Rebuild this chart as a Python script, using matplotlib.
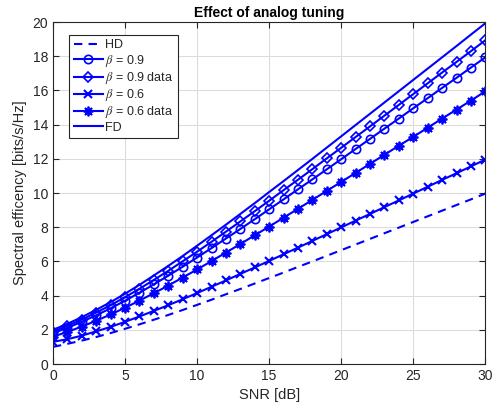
import numpy as np
import matplotlib
matplotlib.use('Agg')
import matplotlib.pyplot as plt

plt.rcParams['font.family'] = ['Liberation Sans', 'DejaVu Sans']
plt.rcParams['mathtext.fontset'] = 'stix'

# SNR axis and curves
snr_db = list(range(0, 31))
hd = [1.00, 1.18, 1.37, 1.58, 1.81, 2.06, 2.32, 2.59, 2.87, 3.16, 3.46,
      3.76, 4.08, 4.39, 4.71, 5.03, 5.35, 5.68, 6.00, 6.33, 6.66,
      6.99, 7.32, 7.65, 7.98, 8.31, 8.64, 8.97, 9.30, 9.63, 9.97]
beta09 = [1.80, 2.12, 2.47, 2.85, 3.26, 3.70, 4.17, 4.66, 5.17, 5.69, 6.23,
          6.78, 7.34, 7.90, 8.47, 9.05, 9.63, 10.22, 10.80, 11.39, 11.98,
          12.58, 13.17, 13.77, 14.36, 14.96, 15.55, 16.15, 16.74, 17.34, 17.94]
beta09_data = [1.90, 2.23, 2.60, 3.01, 3.44, 3.91, 4.40, 4.92, 5.45, 6.01, 6.57,
               7.15, 7.74, 8.34, 8.94, 9.55, 10.17, 10.78, 11.40, 12.03, 12.65,
               13.28, 13.90, 14.53, 15.16, 15.79, 16.42, 17.05, 17.67, 18.30, 18.94]
beta06 = [1.30, 1.45, 1.66, 1.91, 2.17, 2.47, 2.78, 3.11, 3.44, 3.79, 4.15,
          4.52, 4.89, 5.27, 5.65, 6.03, 6.42, 6.81, 7.20, 7.60, 7.99,
          8.39, 8.78, 9.18, 9.57, 9.97, 10.37, 10.77, 11.16, 11.56, 11.96]
beta06_data = [1.60, 1.88, 2.19, 2.53, 2.90, 3.29, 3.71, 4.14, 4.59, 5.06, 5.53,
               6.02, 6.52, 7.02, 7.53, 8.04, 8.56, 9.08, 9.60, 10.13, 10.65,
               11.18, 11.71, 12.24, 12.77, 13.29, 13.82, 14.36, 14.88, 15.41, 15.95]
fd = [2.00, 2.35, 2.74, 3.17, 3.62, 4.11, 4.63, 5.18, 5.74, 6.32, 6.92,
      7.53, 8.15, 8.78, 9.41, 10.06, 10.70, 11.35, 12.00, 12.66, 13.32,
      13.98, 14.64, 15.30, 15.96, 16.62, 17.28, 17.94, 18.60, 19.27, 19.93]

blue = (0, 0, 1)
fig = plt.figure(figsize=(4.93, 4.09), dpi=100)
ax = fig.add_axes([0.1075, 0.110, 0.877, 0.836])

lw = 1.5
ms = 6
ax.plot(snr_db, hd, '--', color=blue, lw=lw, dashes=(4, 3), label='HD')
ax.plot(snr_db, beta09, '-o', color=blue, lw=lw, ms=ms, mfc='none', mew=1.2,
        label=r'$\beta$ = 0.9')
ax.plot(snr_db, beta09_data, '-D', color=blue, lw=lw, ms=ms - 1, mfc='none', mew=1.2,
        label=r'$\beta$ = 0.9 data')
ax.plot(snr_db, beta06, '-x', color=blue, lw=lw, ms=ms, mew=1.5,
        label=r'$\beta$ = 0.6')
ax.plot(snr_db, beta06_data, '-', marker=(8, 2, 0), color=blue, lw=lw, ms=ms + 1, mew=1.3,
        label=r'$\beta$ = 0.6 data')
ax.plot(snr_db, fd, '-', color=blue, lw=lw, label='FD')

ax.set_xlim(0, 30)
ax.set_ylim(0, 20)
ax.set_xticks(range(0, 31, 5))
ax.set_yticks(range(0, 21, 2))
ax.grid(True, color='#dcdcdc', lw=0.8)
ax.set_axisbelow(True)
ax.tick_params(direction='in', length=4, colors='#262626', labelsize=10,
               top=True, right=True, labeltop=False, labelright=False)
for s in ax.spines.values():
    s.set_color('#262626')
    s.set_linewidth(0.8)

ax.set_xlabel('SNR [dB]', fontsize=10.5, color='#262626')
ax.set_ylabel('Spectral efficency [bits/s/Hz]', fontsize=10.5, color='#262626')
ax.set_title('Effect of analog tuning', fontsize=10, fontweight='bold', pad=4)

leg = ax.legend(loc='upper left', bbox_to_anchor=(0.038, 0.962), fontsize=9,
                fancybox=False, framealpha=1, edgecolor='#262626',
                handlelength=2.3, borderpad=0.35, labelspacing=0.1,
                handletextpad=0.2, borderaxespad=0)
leg.get_frame().set_linewidth(0.8)
for t in leg.get_texts():
    t.set_color('#262626')

fig.savefig('out.png', dpi=100)
